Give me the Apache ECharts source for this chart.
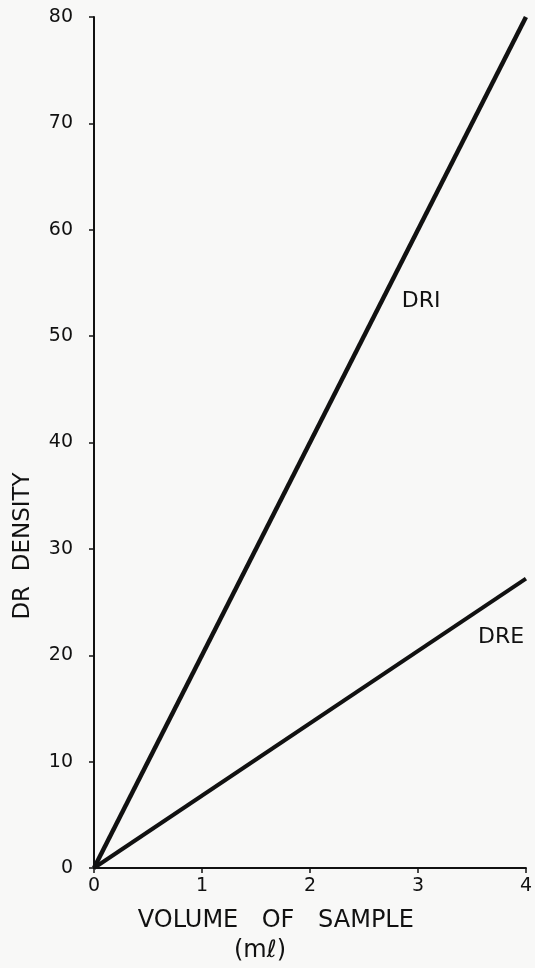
<!DOCTYPE html>
<html>
<head>
<meta charset="utf-8">
<script src="https://cdn.jsdelivr.net/npm/echarts@6/dist/echarts.min.js"></script>
<style>
html,body{margin:0;padding:0;background:#f8f8f7;}
#c{width:535px;height:968px;}
</style>
</head>
<body>
<div id="c"></div>
<script>
const volume = [0, 4];
const dri = [0, 80];
const dre = [0, 27.2];
const xTicks = [0, 1, 2, 3, 4];
const yTicks = [0, 10, 20, 30, 40, 50, 60, 70, 80];
const labelDRI = {name: 'DRI', coord: [3.03, 53.3]};
const labelDRE = {name: 'DRE', coord: [3.77, 21.7]};

const font = 'DejaVu Sans';
const ink = '#111';
const chart = echarts.init(document.getElementById('c'), null, {renderer: 'canvas'});
function pts(ys){ return volume.map((x,i)=>[x, ys[i]]); }
function lbl(p){
  return {symbol:'circle', symbolSize:0, data:[{name:p.name, coord:p.coord,
    label:{show:true, formatter:p.name, position:'inside', color:ink, fontFamily:font, fontSize:22}}]};
}
chart.setOption({
  backgroundColor: '#f8f8f7',
  animation: false,
  grid: {left: 94, right: 4, top: 17, bottom: 100, containLabel: false},
  xAxis: {
    type: 'value', min: 0, max: 4, interval: 1,
    axisLine: {show: true, lineStyle: {color: ink, width: 2}},
    axisTick: {show: true, length: 5, lineStyle: {color: ink, width: 1.5}},
    axisLabel: {color: ink, fontFamily: font, fontSize: 19, margin: 9,
      formatter: v => xTicks.includes(v) ? String(v) : ''},
    splitLine: {show: false}
  },
  yAxis: {
    type: 'value', min: 0, max: 80, interval: 10,
    axisLine: {show: true, lineStyle: {color: ink, width: 2}},
    axisTick: {show: true, length: 5, lineStyle: {color: ink, width: 1.5}},
    axisLabel: {color: ink, fontFamily: font, fontSize: 19, margin: 21,
      formatter: v => yTicks.includes(v) ? String(v) : ''},
    splitLine: {show: false}
  },
  graphic: [
    {type: 'text', x: 188, y: 921,
      style: {text: 'VOLUME', fill: ink, font: '24px "DejaVu Sans"', textAlign: 'center', textVerticalAlign: 'middle'}},
    {type: 'text', x: 278, y: 921,
      style: {text: 'OF', fill: ink, font: '24px "DejaVu Sans"', textAlign: 'center', textVerticalAlign: 'middle'}},
    {type: 'text', x: 366, y: 921,
      style: {text: 'SAMPLE', fill: ink, font: '24px "DejaVu Sans"', textAlign: 'center', textVerticalAlign: 'middle'}},
    {type: 'text', x: 260, y: 951,
      style: {text: '(mℓ)', fill: ink, font: '24px "DejaVu Sans"', textAlign: 'center', textVerticalAlign: 'middle'}},
    {type: 'text', rotation: Math.PI/2, x: 23, y: 546,
      style: {text: 'DR  DENSITY', fill: ink, font: '23px "DejaVu Sans"', textAlign: 'center', textVerticalAlign: 'middle'}}
  ],
  series: [
    {type: 'line', name: 'DRI', data: pts(dri), showSymbol: false,
      lineStyle: {color: ink, width: 4.5}, markPoint: lbl(labelDRI)},
    {type: 'line', name: 'DRE', data: pts(dre), showSymbol: false,
      lineStyle: {color: ink, width: 4}, markPoint: lbl(labelDRE)}
  ]
});
</script>
</body>
</html>
